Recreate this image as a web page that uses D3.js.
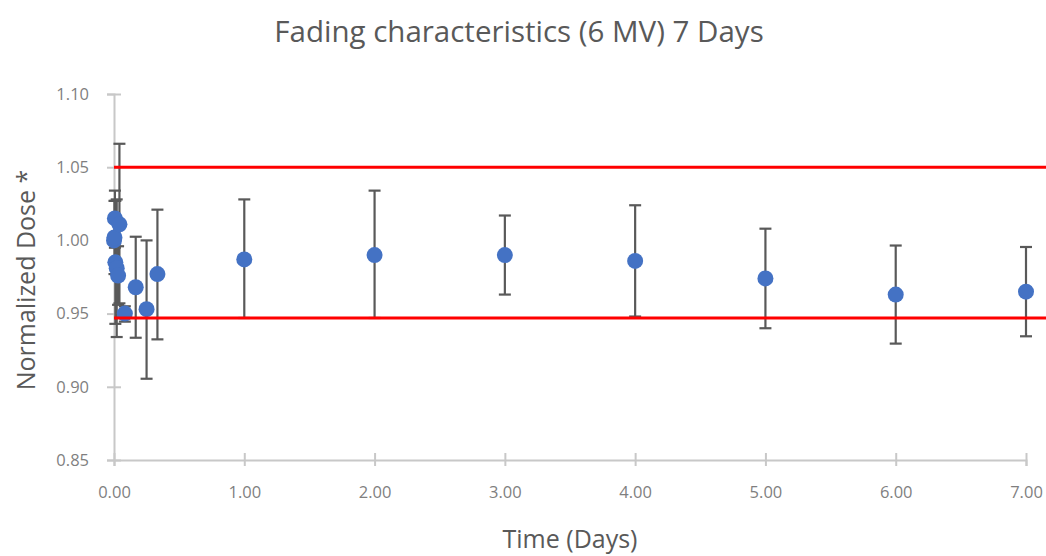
<!DOCTYPE html>
<html>
<head>
<meta charset="utf-8">
<script src="https://cdn.jsdelivr.net/npm/d3@7"></script>
<style>
  body { margin: 0; background: #fff; }
  svg text { font-family: "Open Sans", "Noto Sans", sans-serif; }
</style>
</head>
<body>
<div id="chart"></div>
<script>
// time in days
const times = [0, 0.0035, 0.0069, 0.0104, 0.0208, 0.0313, 0.0417, 0.0833, 0.1667, 0.25, 0.3333, 1, 2, 3, 4, 5, 6, 7];
const doses = [1.000, 1.002, 1.015, 0.985, 0.981, 0.976, 1.011, 0.950, 0.968, 0.953, 0.977, 0.987, 0.990, 0.990, 0.986, 0.974, 0.963, 0.965];
const errUp = [0.000, 0.025, 0.019, 0.042, 0.047, 0.020, 0.055, 0.005, 0.0345, 0.047, 0.044, 0.041, 0.044, 0.027, 0.038, 0.034, 0.0335, 0.0305];
const errDown = [0.000, 0.025, 0.020, 0.042, 0.047, 0.020, 0.054, 0.0055, 0.0345, 0.0475, 0.0446, 0.040, 0.043, 0.027, 0.038, 0.034, 0.0335, 0.0305];
const limitValues = [1.05, 0.947];
const limitSpan = [0, 7.3];
const xTicks = [0, 1, 2, 3, 4, 5, 6, 7];
const yTicks = [0.85, 0.90, 0.95, 1.00, 1.05, 1.10];

const width = 1046, height = 556;
const svg = d3.select("#chart").append("svg")
    .attr("width", width)
    .attr("height", height);

const x = d3.scaleLinear().domain([0, 7]).range([114, 1026]);
const y = d3.scaleLinear().domain([0.85, 1.10]).range([460, 94]);

const axisColor = "#c8c8c8";
const labelColor = "#7f7f7f";

// x axis
const xAxis = svg.append("g")
    .attr("transform", "translate(0,460)")
    .call(d3.axisBottom(x).tickValues(xTicks).tickFormat(d3.format(".2f")).tickSize(6).tickPadding(20));
xAxis.select(".domain").attr("stroke", axisColor).attr("stroke-width", 2);
xAxis.selectAll(".tick line").attr("stroke", axisColor).attr("stroke-width", 2).attr("y1", -7);
xAxis.selectAll(".tick text").attr("fill", labelColor).style("font-size", "16.5px");

// y axis
const yAxis = svg.append("g")
    .attr("transform", "translate(114,0)")
    .call(d3.axisLeft(y).tickValues(yTicks).tickFormat(d3.format(".2f")).tickSize(7).tickPadding(18));
yAxis.select(".domain").attr("stroke", axisColor).attr("stroke-width", 2);
yAxis.selectAll(".tick line").attr("stroke", axisColor).attr("stroke-width", 2).attr("x1", 7);
yAxis.selectAll(".tick text").attr("fill", labelColor).style("font-size", "16.5px");

const data = times.map((t, i) => ({ t: t, v: doses[i], up: errUp[i], down: errDown[i] }));

// error bars
const bars = svg.append("g").attr("stroke", "#595959").attr("stroke-width", 2.2);
data.forEach(d => {
    if (d.up === 0 && d.down === 0) return;
    const cx = x(d.t);
    bars.append("line").attr("x1", cx).attr("x2", cx).attr("y1", y(d.v + d.up)).attr("y2", y(d.v - d.down));
    bars.append("line").attr("x1", cx - 6).attr("x2", cx + 6).attr("y1", y(d.v + d.up)).attr("y2", y(d.v + d.up));
    bars.append("line").attr("x1", cx - 6).attr("x2", cx + 6).attr("y1", y(d.v - d.down)).attr("y2", y(d.v - d.down));
});

// points
svg.append("g").selectAll("circle")
    .data(data)
    .enter().append("circle")
    .attr("cx", d => x(d.t))
    .attr("cy", d => y(d.v))
    .attr("r", 8)
    .attr("fill", "#4472C4");

// limit lines
svg.append("g").selectAll("line")
    .data(limitValues)
    .enter().append("line")
    .attr("x1", x(limitSpan[0]))
    .attr("x2", x(limitSpan[1]))
    .attr("y1", d => y(d))
    .attr("y2", d => y(d))
    .attr("stroke", "#FF0000")
    .attr("stroke-width", 3);

// titles
svg.append("text")
    .attr("x", 519).attr("y", 42)
    .attr("text-anchor", "middle")
    .attr("fill", "#595959")
    .style("font-size", "29.5px")
    .text("Fading characteristics (6 MV) 7 Days");

svg.append("text")
    .attr("x", 570).attr("y", 548)
    .attr("text-anchor", "middle")
    .attr("fill", "#595959")
    .style("font-size", "25px")
    .text("Time (Days)");

svg.append("text")
    .attr("transform", "translate(35,280) rotate(-90)")
    .attr("text-anchor", "middle")
    .attr("fill", "#595959")
    .style("font-size", "25px")
    .text("Normalized Dose *");
</script>
</body>
</html>
